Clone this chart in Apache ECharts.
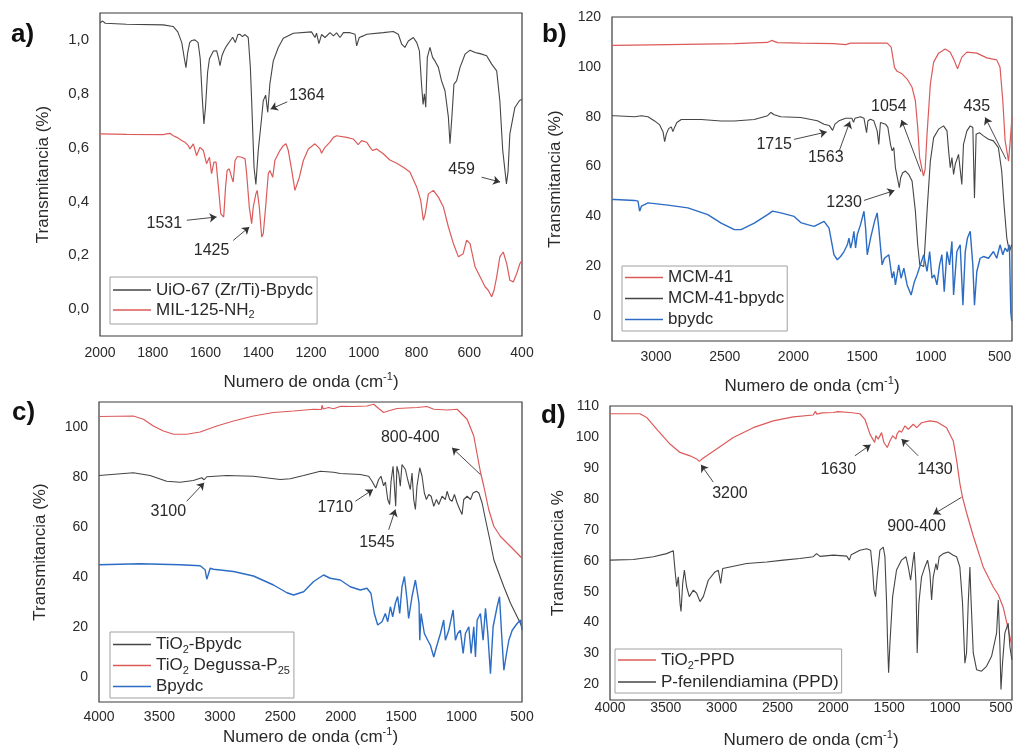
<!DOCTYPE html>
<html>
<head>
<meta charset="utf-8">
<title>Espectros FTIR</title>
<script src="https://cdn.jsdelivr.net/npm/echarts/dist/echarts.min.js"></script>
<style>
  html, body { margin: 0; padding: 0; background: #ffffff; }
  #chart { width: 1013px; height: 750px; }
</style>
</head>
<body>
<div id="chart"></div>
<script>
// ---------- Panel a: UiO-67 (Zr/Ti)-Bpydc / MIL-125-NH2 (cm-1, fraction) ----------
const uio67 = [[2000,1.064],[1990,1.07],[1980,1.062],[1900,1.058],[1760,1.056],[1723,1.05],[1705,1.03],[1690,0.99],[1680,0.93],[1674,0.897],[1668,0.95],[1660,0.99],[1652,0.998],[1640,1.0],[1628,0.99],[1620,0.93],[1612,0.78],[1606,0.688],[1600,0.75],[1592,0.88],[1585,0.93],[1570,0.959],[1558,0.96],[1550,0.93],[1545,0.904],[1538,0.94],[1530,0.96],[1520,0.978],[1507,0.996],[1497,1.01],[1487,0.99],[1477,1.02],[1469,1.021],[1460,1.012],[1450,1.02],[1438,1.009],[1430,0.90],[1425,0.774],[1416,0.527],[1409,0.463],[1400,0.589],[1387,0.712],[1381,0.774],[1372,0.795],[1364,0.731],[1356,0.836],[1343,0.922],[1324,0.972],[1305,1.006],[1267,1.025],[1198,1.03],[1185,1.009],[1179,1.025],[1170,0.986],[1160,1.02],[1147,1.009],[1128,1.027],[1115,1.015],[1103,1.026],[1090,1.009],[1077,1.027],[1052,1.027],[1033,1.021],[1027,0.978],[1017,1.009],[1002,1.015],[989,1.021],[926,1.027],[888,1.031],[869,1.021],[856,0.984],[844,0.972],[831,0.996],[812,1.009],[799,0.99],[789,0.959],[781,0.836],[775,0.76],[770,0.80],[765,0.75],[759,0.935],[749,0.972],[739,0.935],[730,0.922],[717,0.898],[705,0.848],[692,0.811],[679,0.712],[673,0.614],[666,0.712],[658,0.836],[648,0.848],[635,0.898],[616,0.947],[597,0.962],[578,0.953],[559,0.949],[534,0.941],[515,0.910],[496,0.885],[484,0.774],[473,0.589],[459,0.465],[453,0.51],[446,0.651],[427,0.749],[410,0.774],[400,0.78]];
const mil125 = [[2000,0.651],[1900,0.649],[1760,0.648],[1747,0.651],[1735,0.653],[1722,0.644],[1709,0.638],[1690,0.626],[1678,0.620],[1665,0.607],[1659,0.595],[1646,0.614],[1634,0.570],[1621,0.601],[1608,0.589],[1596,0.540],[1585,0.564],[1577,0.503],[1568,0.546],[1560,0.546],[1551,0.453],[1542,0.354],[1531,0.342],[1524,0.453],[1518,0.515],[1510,0.521],[1501,0.490],[1495,0.472],[1488,0.552],[1479,0.567],[1463,0.564],[1450,0.558],[1444,0.503],[1434,0.379],[1425,0.317],[1419,0.379],[1409,0.428],[1404,0.441],[1396,0.379],[1387,0.268],[1381,0.280],[1372,0.379],[1362,0.503],[1356,0.515],[1345,0.490],[1337,0.552],[1318,0.589],[1305,0.607],[1295,0.614],[1286,0.589],[1273,0.515],[1261,0.441],[1254,0.434],[1244,0.490],[1229,0.552],[1210,0.595],[1185,0.614],[1166,0.595],[1160,0.579],[1147,0.601],[1128,0.620],[1115,0.638],[1103,0.644],[1065,0.638],[1040,0.632],[1021,0.611],[1008,0.626],[989,0.620],[976,0.601],[966,0.589],[951,0.595],[926,0.577],[901,0.554],[875,0.542],[850,0.527],[825,0.509],[799,0.453],[784,0.404],[774,0.330],[767,0.354],[755,0.428],[736,0.441],[717,0.416],[698,0.379],[679,0.305],[660,0.243],[641,0.194],[623,0.206],[610,0.256],[597,0.243],[578,0.157],[559,0.120],[540,0.083],[528,0.070],[515,0.046],[506,0.070],[496,0.120],[484,0.194],[471,0.212],[458,0.169],[446,0.107],[433,0.101],[420,0.132],[408,0.169],[400,0.18]];

// ---------- Panel b: MCM-41 / MCM-41-bpydc / bpydc (%) ----------
const mcm41 = [[3320,108.6],[3300,108.6],[2913,108.9],[2430,109.3],[2188,109.8],[2159,110.6],[2116,109.7],[1947,109.5],[1705,109.3],[1620,108.9],[1584,109.5],[1318,109.5],[1289,107.9],[1265,99.8],[1246,98.2],[1210,97.2],[1173,95.1],[1137,91.8],[1113,86.4],[1096,75.7],[1082,63.6],[1054,56.2],[1042,58.9],[1028,73.0],[1004,93.1],[980,101.9],[944,105.5],[896,107.2],[859,105.9],[830,102.5],[806,99.2],[775,103.9],[738,105.9],[666,105.5],[593,103.6],[521,102.8],[497,99.8],[477,86.4],[460,70.3],[435,62.2],[425,68.9],[410,79.7]];
const mcm41Bpydc = [[3320,80.4],[3300,80.4],[3155,79.96],[3106,80.4],[3058,79.96],[3010,78.3],[2973,76.7],[2949,74.0],[2937,70.0],[2925,73.0],[2908,75.2],[2889,75.9],[2877,74.0],[2865,75.7],[2848,77.7],[2816,78.9],[2671,78.9],[2526,78.3],[2430,78.3],[2285,78.9],[2188,80.4],[2164,81.7],[2140,80.8],[2092,80.0],[1947,79.7],[1826,78.4],[1777,77.0],[1740,76.5],[1715,74.5],[1698,77.0],[1669,78.35],[1620,79.4],[1575,79.4],[1563,77.7],[1552,79.4],[1512,79.96],[1487,79.4],[1468,73.6],[1458,78.35],[1439,79.0],[1415,78.35],[1391,74.3],[1379,68.9],[1367,77.7],[1355,78.35],[1330,77.0],[1313,75.7],[1294,68.9],[1282,66.3],[1270,67.6],[1258,59.5],[1230,51.5],[1220,55.5],[1205,57.5],[1185,58.2],[1161,56.8],[1137,54.2],[1113,42.1],[1096,28.6],[1081,20.6],[1052,19.9],[1028,42.1],[1004,62.2],[980,71.6],[944,75.0],[908,76.3],[883,74.3],[871,66.3],[859,59.5],[847,63.6],[835,56.8],[823,60.9],[799,64.9],[775,52.8],[763,68.9],[738,74.3],[714,76.3],[695,75.7],[683,47.4],[671,73.0],[647,73.6],[618,72.3],[581,70.95],[545,70.3],[509,67.6],[485,58.2],[468,44.7],[448,31.3],[429,25.9],[412,28.6]];
const bpydcB = [[3320,46.8],[3300,46.8],[3155,46.4],[3131,46.1],[3119,42.1],[3106,44.1],[3058,45.4],[2913,44.5],[2768,43.4],[2623,40.7],[2526,37.3],[2430,34.7],[2381,34.7],[2285,37.3],[2188,40.7],[2152,42.1],[2092,41.4],[2043,40.7],[1995,40.0],[1947,37.5],[1898,36.7],[1850,36.0],[1777,38.0],[1741,35.3],[1705,24.6],[1681,22.6],[1657,23.9],[1632,25.9],[1608,28.6],[1596,31.3],[1584,27.3],[1572,29.96],[1560,34.0],[1548,27.3],[1536,32.6],[1512,36.7],[1487,42.05],[1475,35.3],[1463,24.6],[1439,31.3],[1410,38.0],[1391,41.4],[1379,35.3],[1355,20.55],[1338,23.2],[1306,24.6],[1282,15.2],[1270,17.9],[1258,12.5],[1234,20.55],[1217,15.2],[1197,19.2],[1173,12.5],[1144,8.45],[1120,13.8],[1101,16.5],[1077,20.55],[1052,24.6],[1028,17.9],[1009,25.9],[992,15.2],[975,16.5],[956,12.5],[937,20.55],[920,24.6],[903,9.8],[883,25.9],[864,20.55],[847,29.96],[835,8.45],[811,25.9],[787,28.6],[767,4.4],[750,25.9],[734,31.3],[714,34.0],[695,20.55],[683,4.4],[666,17.9],[642,23.2],[618,23.9],[581,23.2],[545,25.9],[521,23.2],[497,28.6],[477,24.6],[460,27.3],[444,25.9],[429,28.6],[419,1.7],[412,-2]];

// ---------- Panel c: TiO2-Bpydc / TiO2 Degussa-P25 / Bpydc (%) ----------
const tio2Bpydc = [[4000,80.6],[3716,81.7],[3578,80.6],[3440,78.3],[3329,77.9],[3219,78.6],[3150,79.7],[3130,78.9],[3108,80.1],[2942,80.6],[2722,80.3],[2501,79.0],[2418,79.3],[2307,80.6],[2169,82.3],[2059,81.9],[2004,81.4],[1838,81.0],[1769,80.3],[1741,78.3],[1710,75.6],[1686,79.0],[1667,80.3],[1645,76.5],[1630,78.0],[1611,71.0],[1595,69.0],[1584,78.0],[1567,84.3],[1545,68.3],[1535,84.3],[1520,81.5],[1507,76.3],[1493,85.0],[1465,83.0],[1446,79.0],[1424,75.0],[1410,81.6],[1396,71.0],[1382,67.0],[1369,76.3],[1346,83.7],[1327,80.3],[1308,73.6],[1291,71.0],[1272,73.0],[1252,72.3],[1230,68.3],[1208,71.0],[1189,69.0],[1161,72.3],[1134,71.0],[1120,74.3],[1098,71.0],[1079,70.3],[1059,73.0],[1037,69.6],[1015,67.0],[996,65.0],[982,71.0],[954,72.3],[926,71.0],[905,73.6],[877,74.3],[857,73.6],[830,69.6],[802,63.0],[766,54.9],[733,46.9],[692,41.5],[651,36.2],[595,29.5],[540,24.1],[500,20.1]];
const tio2P25 = [[4000,104.2],[3716,104.4],[3633,103.1],[3550,100.4],[3467,98.4],[3384,97.1],[3274,97.1],[3163,98.0],[3025,100.4],[2887,102.4],[2722,104.4],[2556,105.8],[2390,106.4],[2225,107.1],[2160,107.0],[2155,108.7],[2145,107.2],[2100,107.8],[2059,107.3],[2000,108.3],[1893,108.2],[1783,108.4],[1727,109.1],[1686,107.4],[1645,105.8],[1600,106.5],[1534,107.4],[1369,107.8],[1286,108.2],[1230,107.1],[1120,106.8],[1037,107.1],[954,103.1],[899,96.4],[844,82.0],[816,76.3],[775,66.9],[733,60.3],[678,56.2],[595,52.2],[540,49.5],[500,47.5]];
const bpydcC = [[4000,44.9],[3660,45.3],[3329,44.9],[3163,44.5],[3122,42.9],[3108,39.1],[3080,43.5],[3053,43.1],[2887,42.2],[2722,40.4],[2556,36.8],[2445,33.7],[2390,32.8],[2307,34.1],[2224,38.2],[2142,40.8],[2087,39.5],[2004,38.8],[1921,36.1],[1838,34.8],[1783,35.5],[1750,33.5],[1722,25.4],[1694,20.8],[1658,22.1],[1631,25.4],[1611,22.1],[1589,28.1],[1570,24.1],[1548,29.5],[1529,32.2],[1512,25.4],[1493,36.1],[1473,40.2],[1451,30.8],[1438,23.4],[1410,32.2],[1382,38.8],[1369,39.5],[1352,29.5],[1346,14.7],[1335,25.4],[1308,17.4],[1280,14.7],[1258,12.7],[1230,8.0],[1208,12.0],[1175,17.4],[1148,22.8],[1134,14.7],[1106,18.7],[1070,26.8],[1051,14.7],[1032,17.4],[1010,18.7],[987,9.4],[968,17.4],[940,20.1],[921,9.4],[899,20.1],[885,8.0],[871,22.8],[844,25.4],[822,14.7],[802,27.5],[783,17.4],[761,1.3],[739,20.1],[706,28.1],[686,32.1],[669,17.4],[650,2.7],[628,9.4],[609,14.7],[581,18.7],[540,21.4],[512,22.8],[500,18.7]];

// ---------- Panel d: TiO2-PPD / P-fenilendiamina (%) ----------
const tio2Ppd = [[4000,107.5],[3731,107.5],[3672,106.3],[3582,102.5],[3463,97.7],[3373,95.0],[3284,93.9],[3224,92.9],[3200,92.1],[3164,93.2],[3045,96.1],[2896,99.8],[2717,103.0],[2538,105.2],[2359,106.5],[2180,107.1],[2160,108.3],[2150,107.4],[2100,107.8],[1999,107.9],[1960,108.2],[1851,107.9],[1762,107.5],[1717,105.7],[1672,100.9],[1630,98.2],[1619,100.4],[1598,99.3],[1568,101.4],[1547,98.2],[1517,96.6],[1493,98.7],[1469,100.4],[1440,99.3],[1430,100.9],[1410,102.0],[1389,101.5],[1359,103.6],[1329,102.5],[1284,104.1],[1254,103.0],[1210,104.6],[1135,105.2],[1075,104.9],[986,103.0],[926,98.7],[896,92.5],[867,85.0],[843,80.5],[807,75.5],[747,68.0],[658,58.0],[568,51.5],[523,49.0],[479,45.0],[434,38.0],[404,33.0],[400,32.5]];
const ppd = [[4000,60.2],[3791,60.4],[3612,61.3],[3493,62.3],[3433,63.2],[3418,57.0],[3403,51.6],[3388,54.8],[3373,46.3],[3364,43.6],[3349,52.7],[3334,57.0],[3314,51.6],[3290,48.4],[3254,50.5],[3224,49.5],[3194,46.8],[3164,48.4],[3120,53.7],[3060,56.4],[3030,56.9],[3009,52.7],[2991,57.5],[2926,58.0],[2776,59.1],[2597,59.6],[2448,60.2],[2299,60.7],[2180,61.3],[2150,62.3],[2120,61.4],[1999,61.8],[1880,61.5],[1857,60.2],[1840,61.9],[1762,63.4],[1702,63.9],[1666,63.4],[1648,57.0],[1636,50.5],[1622,48.4],[1607,55.0],[1583,63.4],[1553,64.4],[1538,61.3],[1523,46.3],[1514,33.4],[1505,23.8],[1493,33.4],[1469,48.4],[1434,57.0],[1389,60.2],[1350,61.3],[1329,58.0],[1308,53.7],[1290,59.0],[1275,62.8],[1260,52.7],[1249,30.2],[1234,46.3],[1210,54.8],[1180,58.0],[1156,60.2],[1135,55.9],[1120,47.3],[1105,54.8],[1081,59.1],[1069,57.0],[1052,61.3],[1016,62.3],[971,62.8],[926,61.8],[896,61.3],[867,58.0],[843,46.3],[822,26.9],[807,30.2],[792,46.3],[777,58.0],[768,48.4],[747,30.2],[717,24.8],[673,24.3],[628,25.9],[583,29.1],[538,36.6],[523,47.3],[508,32.3],[499,18.4],[485,26.9],[464,36.6],[434,39.8],[419,32.3],[401,28.0]];

// ---------- Tick labels ----------
const ticksXa = [2000, 1800, 1600, 1400, 1200, 1000, 800, 600, 400];
const ticksYa = [0, 0.2, 0.4, 0.6, 0.8, 1.0];
const ticksXb = [3000, 2500, 2000, 1500, 1000, 500];
const ticksYb = [0, 20, 40, 60, 80, 100, 120];
const ticksXc = [4000, 3500, 3000, 2500, 2000, 1500, 1000, 500];
const ticksYc = [0, 20, 40, 60, 80, 100];
const ticksXd = [4000, 3500, 3000, 2500, 2000, 1500, 1000, 500];
const ticksYd = [20, 30, 40, 50, 60, 70, 80, 90, 100, 110];

// ---------- Band annotations: label anchor, arrow tail, arrow head (data units) ----------
const notesA = [
  ['1364', [1216, 0.793], [1290, 0.770], [1353, 0.743]],
  ['459',  [629, 0.519],  [553, 0.490],  [483, 0.472]],
  ['1531', [1756, 0.317], [1671, 0.330], [1558, 0.342]],
  ['1425', [1577, 0.219], [1495, 0.255], [1434, 0.305]]
];
const notesB = [
  ['1715', [2140, 68.7], [1995, 70.9], [1758, 73.9]],
  ['1563', [1765, 63.5], [1669, 66.0], [1589, 78.1]],
  ['1054', [1306, 84.0], [1072, 57.9], [1214, 78.7]],
  ['435',  [666, 84.0],  [453, 62.9],  [605, 79.7]],
  ['1230', [1632, 45.7], [1487, 46.4], [1265, 50.4]]
];
const notesC = [
  ['3100',    [3426, 66.3], [3274, 70.3], [3130, 77.7]],
  ['1710',    [2045, 67.6], [1879, 70.3], [1733, 75.0]],
  ['1545',    [1700, 53.8], [1603, 58.9], [1548, 67.0]],
  ['800-400', [1424, 95.7], [844, 81.0],  [1079, 91.7]]
];
const notesD = [
  ['3200',    [2926, 81.6], [3075, 85.4], [3185, 91.0]],
  ['1630',    [1956, 89.6], [1807, 93.9], [1666, 97.5]],
  ['1430',    [1090, 89.6], [1240, 93.9], [1389, 99.3]],
  ['900-400', [1255, 70.9], [852, 80.5],  [1105, 75.0]]
];

// ---------- Styling ----------
const FONT = '"Liberation Sans", Arial, Helvetica, sans-serif';
const INK = '#2a2a2a';
const BLACK = '#454545';
const RED = '#dc5a5a';
const BLUE = '#2c6cc4';

const legendText = {
  'UiO-67 (Zr/Ti)-Bpydc': 'UiO-67 (Zr/Ti)-Bpydc',
  'MIL-125-NH2': 'MIL-125-NH{sub|2}',
  'MCM-41': 'MCM-41',
  'MCM-41-bpydc': 'MCM-41-bpydc',
  'bpydc': 'bpydc',
  'TiO2-Bpydc': 'TiO{sub|2}-Bpydc',
  'TiO2 Degussa-P25': 'TiO{sub|2} Degussa-P{sub|25}',
  'Bpydc': 'Bpydc',
  'TiO2-PPD': 'TiO{sub|2}-PPD',
  'P-fenilendiamina (PPD)': 'P-fenilendiamina (PPD)'
};

const plainFmt = v => String(v);
const commaFmt = v => v.toFixed(1).replace('.', ',');

function xAxisCfg(idx, min, max, ticks, labelMargin, nameGap) {
  return {
    type: 'value', gridIndex: idx, inverse: true, min: min, max: max,
    axisLine: { show: false }, axisTick: { show: false }, splitLine: { show: false },
    axisLabel: { customValues: ticks, margin: labelMargin, fontSize: 14, color: INK, fontFamily: FONT, formatter: plainFmt },
    name: 'Numero de onda (cm{sup|-1})', nameLocation: 'middle', nameGap: nameGap,
    nameTextStyle: {
      fontSize: 17, color: INK, fontFamily: FONT, lineHeight: 22,
      rich: { sup: { fontSize: 11, lineHeight: 12, verticalAlign: 'top', color: INK, fontFamily: FONT } }
    }
  };
}

function yAxisCfg(idx, min, max, ticks, name, nameGap, fmt, labelSize) {
  return {
    type: 'value', gridIndex: idx, min: min, max: max,
    axisLine: { show: false }, axisTick: { show: false }, splitLine: { show: false },
    axisLabel: { customValues: ticks, margin: 11, fontSize: labelSize, color: INK, fontFamily: FONT, formatter: fmt },
    name: name, nameLocation: 'middle', nameGap: nameGap,
    nameTextStyle: { fontSize: 17, color: INK, fontFamily: FONT }
  };
}

function spectrum(name, data, color, idx, width, notes) {
  const s = {
    type: 'line', name: name, data: data, xAxisIndex: idx, yAxisIndex: idx,
    color: color, symbol: 'none', showSymbol: false, animation: false,
    lineStyle: { width: width, color: color }, emphasis: { disabled: true }
  };
  if (notes) {
    s.markPoint = {
      silent: true, symbol: 'circle', symbolSize: 0, animation: false,
      label: { show: true, position: 'inside', formatter: '{b}', fontSize: 16, color: INK, fontFamily: FONT },
      data: notes.map(n => ({ name: n[0], coord: n[1] }))
    };
    s.markLine = {
      silent: true, animation: false, symbol: ['none', 'arrow'], symbolSize: 7,
      label: { show: false },
      lineStyle: { color: '#333', width: 0.9, type: 'solid' },
      data: notes.map(n => [{ coord: n[2] }, { coord: n[3] }])
    };
  }
  return s;
}

function legendCfg(names, left, top, lineH, padding) {
  return {
    data: names, orient: 'vertical', left: left, top: top, padding: padding,
    icon: 'rect', itemWidth: 38, itemHeight: 1.6, itemGap: 0,
    selectedMode: false, borderColor: '#a0a0a0', borderWidth: 1,
    formatter: n => legendText[n],
    textStyle: {
      fontSize: 17, color: INK, fontFamily: FONT, lineHeight: lineH,
      rich: { sub: { fontSize: 11, lineHeight: 11, verticalAlign: 'bottom', color: INK, fontFamily: FONT } }
    }
  };
}

const panelTitle = (t, left, top) => ({
  text: t, left: left, top: top, padding: 0,
  textStyle: { fontSize: 26, fontWeight: 'bold', color: '#111', fontFamily: FONT }
});
const gridBox = (left, top, width, height) => ({
  left: left, top: top, width: width, height: height, show: true,
  containLabel: false, outerBoundsMode: 'none',
  borderColor: '#3a3a3a', borderWidth: 1.2, backgroundColor: 'transparent'
});

const option = {
  backgroundColor: '#ffffff',
  animation: false,
  title: [
    panelTitle('a)', 11, 22),
    panelTitle('b)', 542, 22),
    panelTitle('c)', 12, 400),
    panelTitle('d)', 541, 403)
  ],
  grid: [
    gridBox(100, 13, 422, 323),
    gridBox(612, 17, 400, 324),
    gridBox(99, 402, 423, 300),
    gridBox(610, 406, 402, 294)
  ],
  xAxis: [
    xAxisCfg(0, 400, 2000, ticksXa, 10, 35),
    xAxisCfg(1, 410, 3320, ticksXb, 9, 34),
    xAxisCfg(2, 500, 4000, ticksXc, 8, 24),
    xAxisCfg(3, 400, 4000, ticksXd, 1, 29)
  ],
  yAxis: [
    yAxisCfg(0, -0.1, 1.1, ticksYa, 'Transmitancia (%)', 48, commaFmt, 15),
    yAxisCfg(1, -10, 120, ticksYb, 'Transmitancia (%)', 48, plainFmt, 14),
    yAxisCfg(2, -10, 110, ticksYc, 'Transmitancia (%)', 50, plainFmt, 14),
    yAxisCfg(3, 15, 110, ticksYd, 'Transmitancia %', 43, plainFmt, 14)
  ],
  legend: [
    legendCfg(['UiO-67 (Zr/Ti)-Bpydc', 'MIL-125-NH2'], 110, 277, 20, [3, 4, 4, 3]),
    legendCfg(['MCM-41', 'MCM-41-bpydc', 'bpydc'], 622, 266, 21, [1, 3, 1, 3]),
    legendCfg(['TiO2-Bpydc', 'TiO2 Degussa-P25', 'Bpydc'], 110, 632, 21, [2, 4, 1, 3]),
    legendCfg(['TiO2-PPD', 'P-fenilendiamina (PPD)'], 615, 649, 22, [0, 3, 0, 3])
  ],
  series: [
    spectrum('UiO-67 (Zr/Ti)-Bpydc', uio67, BLACK, 0, 1.1),
    spectrum('MIL-125-NH2', mil125, RED, 0, 1.2, notesA),

    spectrum('MCM-41', mcm41, RED, 1, 1.2),
    spectrum('MCM-41-bpydc', mcm41Bpydc, BLACK, 1, 1.1),
    spectrum('bpydc', bpydcB, BLUE, 1, 1.4, notesB),

    spectrum('TiO2-Bpydc', tio2Bpydc, BLACK, 2, 1.1),
    spectrum('TiO2 Degussa-P25', tio2P25, RED, 2, 1.2),
    spectrum('Bpydc', bpydcC, BLUE, 2, 1.4, notesC),

    spectrum('TiO2-PPD', tio2Ppd, RED, 3, 1.2),
    spectrum('P-fenilendiamina (PPD)', ppd, BLACK, 3, 1.1, notesD)
  ]
};

const chart = echarts.init(document.getElementById('chart'), null, { renderer: 'canvas' });
chart.setOption(option);
</script>
</body>
</html>
